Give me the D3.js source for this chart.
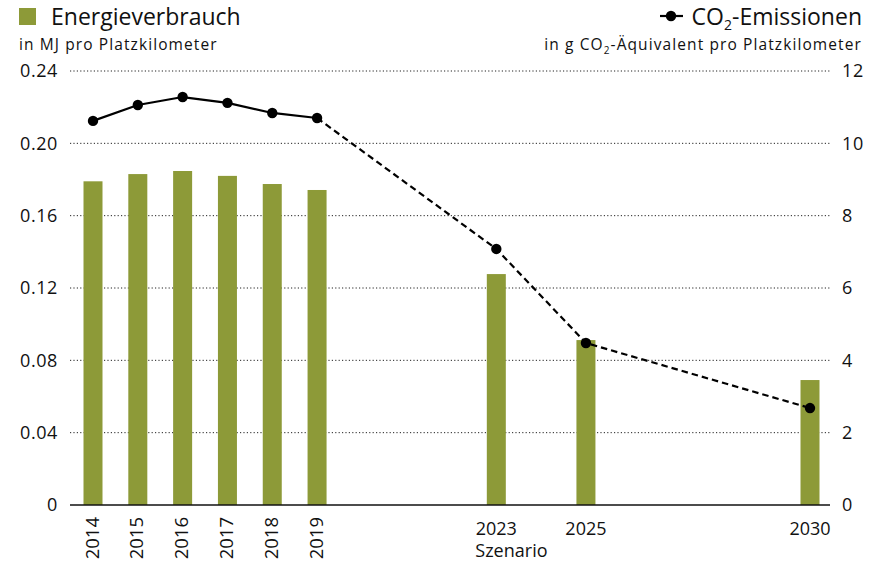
<!DOCTYPE html>
<html>
<head>
<meta charset="utf-8">
<script src="https://cdn.jsdelivr.net/npm/d3@7"></script>
<style>
  body { margin: 0; background: #fff; }
  svg { display: block; font-family: "Open Sans", "Noto Sans", sans-serif; }
</style>
</head>
<body>
<svg id="chart" width="880" height="562"></svg>
<script>
// Energy consumption (MJ per seat-km) and CO2 emissions (g CO2-eq per seat-km)
const years = [2014, 2015, 2016, 2017, 2018, 2019, 2023, 2025, 2030];
const energy = [0.179, 0.183, 0.1847, 0.182, 0.1775, 0.1742, 0.1277, 0.0912, 0.0691];
const co2 = [10.62, 11.06, 11.28, 11.12, 10.84, 10.70, 7.08, 4.48, 2.68];
const leftTicks = [0, 0.04, 0.08, 0.12, 0.16, 0.20, 0.24];
const rightTicks = [0, 2, 4, 6, 8, 10, 12];
const rotatedYears = [2014, 2015, 2016, 2017, 2018, 2019];
const lastHistoric = 2019;
const scenarioYear = 2023;

const svg = d3.select("#chart");
const barColor = "#8d9a38";
const ink = "#111";

const x = d3.scaleLinear().domain([2014, 2030]).range([93, 810]);
const yL = d3.scaleLinear().domain([0, 0.24]).range([505, 71]);
const yR = d3.scaleLinear().domain([0, 12]).range([505, 71]);
const plotLeft = 70, plotRight = 830;

// gridlines
svg.append("g").selectAll("line")
  .data(leftTicks.filter(d => d > 0))
  .join("line")
  .attr("x1", plotLeft).attr("x2", plotRight)
  .attr("y1", d => yL(d)).attr("y2", d => yL(d))
  .attr("stroke", "#222").attr("stroke-width", 1)
  .attr("stroke-dasharray", "1.2,2.2");

// left axis labels
const leftAxis = d3.axisLeft(yL).tickValues(leftTicks)
  .tickFormat(d => d === 0 ? "0" : d3.format(".2f")(d))
  .tickSize(0).tickPadding(0);
svg.append("g").attr("transform", "translate(58,0)").call(leftAxis)
  .call(g => g.select(".domain").remove())
  .selectAll("text").attr("font-size", 18).attr("fill", ink)
  .attr("letter-spacing", 0.6)
  .attr("font-family", "'Open Sans', sans-serif");

// right axis labels
const rightAxis = d3.axisRight(yR).tickValues(rightTicks)
  .tickFormat(d3.format("d")).tickSize(0).tickPadding(0);
svg.append("g").attr("transform", "translate(842,0)").call(rightAxis)
  .call(g => g.select(".domain").remove())
  .selectAll("text").attr("font-size", 18).attr("fill", ink)
  .attr("letter-spacing", 0.6)
  .attr("font-family", "'Open Sans', sans-serif");

// bars
const bw = 19;
svg.append("g").selectAll("rect")
  .data(years.map((y, i) => ({ y, v: energy[i] })))
  .join("rect")
  .attr("x", d => x(d.y) - bw / 2)
  .attr("width", bw)
  .attr("y", d => yL(d.v))
  .attr("height", d => yL(0) - yL(d.v))
  .attr("fill", barColor);

// baseline
svg.append("line")
  .attr("x1", plotLeft).attr("x2", plotRight)
  .attr("y1", yL(0)).attr("y2", yL(0))
  .attr("stroke", ink).attr("stroke-width", 1.5);

// emissions line: solid for historic years, dashed for scenario
const pts = years.map((y, i) => ({ y, v: co2[i] }));
const line = d3.line().x(d => x(d.y)).y(d => yR(d.v));
svg.append("path")
  .datum(pts.filter(d => d.y <= lastHistoric))
  .attr("d", line).attr("fill", "none")
  .attr("stroke", "#000").attr("stroke-width", 2.2);
svg.append("path")
  .datum(pts.filter(d => d.y >= lastHistoric))
  .attr("d", line).attr("fill", "none")
  .attr("stroke", "#000").attr("stroke-width", 2.2)
  .attr("stroke-dasharray", "6.5,4");
svg.append("g").selectAll("circle")
  .data(pts).join("circle")
  .attr("cx", d => x(d.y)).attr("cy", d => yR(d.v))
  .attr("r", 5.2).attr("fill", "#000");

// x labels
svg.append("g").selectAll("text")
  .data(rotatedYears).join("text")
  .attr("transform", d => `translate(${x(d) + 5.5},517) rotate(-90)`)
  .attr("text-anchor", "end")
  .attr("font-size", 18.5).attr("fill", ink)
  .text(d => d);
svg.append("g").selectAll("text")
  .data(years.filter(y => !rotatedYears.includes(y))).join("text")
  .attr("x", d => x(d)).attr("y", 535)
  .attr("text-anchor", "middle")
  .attr("font-size", 18).attr("fill", ink)
  .text(d => d);
svg.append("text")
  .attr("x", x(scenarioYear) - 21).attr("y", 557)
  .attr("text-anchor", "start")
  .attr("font-size", 18).attr("fill", ink)
  .text("Szenario");

// left legend
svg.append("rect").attr("x", 19).attr("y", 8).attr("width", 17).attr("height", 17).attr("fill", barColor);
svg.append("text").attr("x", 51).attr("y", 25)
  .attr("font-size", 23).attr("fill", ink).text("Energieverbrauch");
svg.append("text").attr("x", 19).attr("y", 50)
  .attr("font-size", 15.5).attr("letter-spacing", 1.1).attr("fill", ink)
  .text("in MJ pro Platzkilometer");

// right legend
svg.append("line").attr("x1", 660).attr("x2", 683).attr("y1", 16).attr("y2", 16)
  .attr("stroke", "#000").attr("stroke-width", 2.2);
svg.append("circle").attr("cx", 671).attr("cy", 16).attr("r", 5.2).attr("fill", "#000");
const t1 = svg.append("text").attr("x", 862).attr("y", 25)
  .attr("text-anchor", "end").attr("font-size", 23).attr("fill", ink);
t1.append("tspan").text("CO");
t1.append("tspan").attr("font-size", 14).attr("dy", 5).text("2");
t1.append("tspan").attr("dy", -5).text("-Emissionen");
const t2 = svg.append("text").attr("x", 862).attr("y", 50)
  .attr("text-anchor", "end").attr("font-size", 15.5).attr("letter-spacing", 1.1).attr("fill", ink);
t2.append("tspan").text("in g CO");
t2.append("tspan").attr("font-size", 10).attr("dy", 4).text("2");
t2.append("tspan").attr("dy", -4).text("-Äquivalent pro Platzkilometer");
</script>
</body>
</html>
